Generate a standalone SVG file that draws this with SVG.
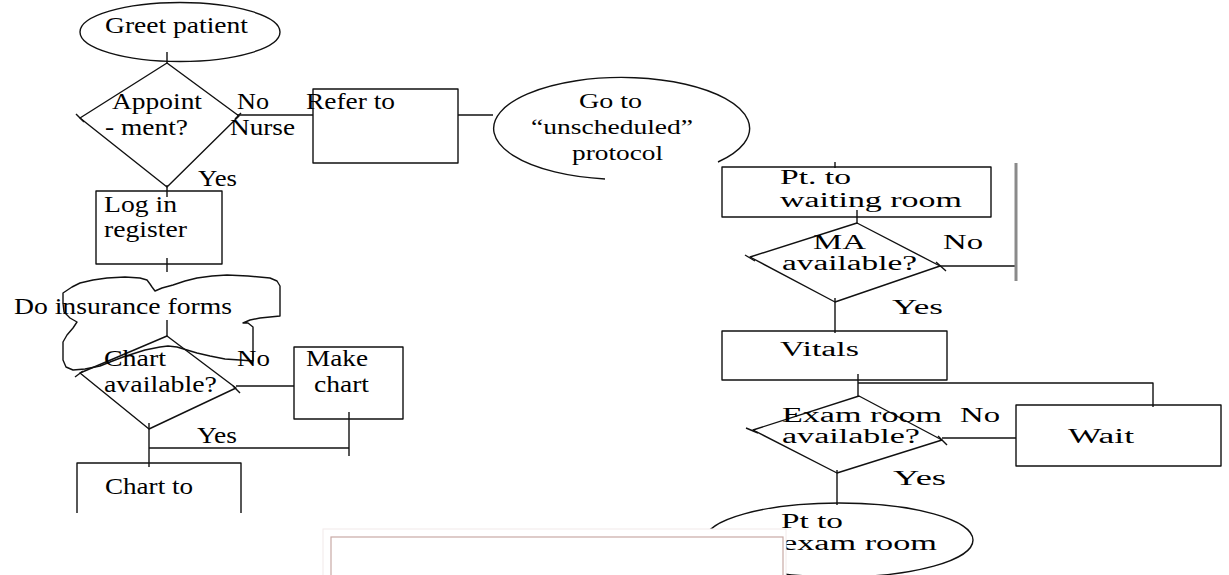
<svg xmlns="http://www.w3.org/2000/svg" width="1229" height="575" viewBox="0 0 1229 575">
<style>
.s{fill:none;stroke:#111;stroke-width:1.4;stroke-linejoin:round}
text{font-family:'Liberation Serif','DejaVu Serif','Times New Roman',serif;fill:#000}
.l{font-size:23px}
.m{font-size:22px}
.r{font-size:20px}
</style>
<rect width="1229" height="575" fill="#fff"/>
<g id="connectors">
<line class="s" x1="167" y1="52" x2="167" y2="63"/>
<line class="s" x1="237" y1="115" x2="313" y2="115"/>
<line class="s" x1="458" y1="115" x2="493" y2="115"/>
<line class="s" x1="167" y1="185" x2="167" y2="197"/>
<line class="s" x1="167" y1="258" x2="167" y2="272"/>
<line class="s" x1="167" y1="320" x2="167" y2="336"/>
<line class="s" x1="236" y1="386" x2="294" y2="386"/>
<line class="s" x1="349" y1="412" x2="349" y2="456"/>
<line class="s" x1="149" y1="448" x2="349" y2="448"/>
<line class="s" x1="149" y1="423" x2="149" y2="467"/>
<line class="s" x1="835" y1="162" x2="835" y2="168"/>
<line class="s" x1="857" y1="210" x2="857" y2="223"/>
<line class="s" x1="940" y1="266" x2="1015" y2="266"/>
<line x1="1016" y1="163" x2="1016" y2="281" stroke="#8a8a8a" stroke-width="3"/>
<line class="s" x1="835" y1="298" x2="835" y2="333"/>
<line class="s" x1="858" y1="374" x2="858" y2="396"/>
<path class="s" d="M858,383 H1153 V407"/>
<line class="s" x1="942" y1="438" x2="1016" y2="438"/>
<line class="s" x1="837" y1="470" x2="837" y2="505"/>
</g>
<g id="greet">
<ellipse class="s" cx="180" cy="32" rx="100" ry="29.5"/>
<text class="l" x="105" y="33" textLength="143" lengthAdjust="spacingAndGlyphs">Greet patient</text>
</g>
<g id="appointment">
<polygon class="s" points="167,63 239,116 167,187 80,118"/>
<line class="s" x1="76" y1="114" x2="84" y2="122"/>
<line class="s" x1="235" y1="119" x2="241" y2="113"/>
<text class="l" x="112" y="109" textLength="90" lengthAdjust="spacingAndGlyphs">Appoint</text>
<text class="l" x="105" y="135" textLength="83" lengthAdjust="spacingAndGlyphs">- ment?</text>
<text class="l" x="237" y="109" textLength="32" lengthAdjust="spacingAndGlyphs">No</text>
<text class="l" x="230" y="135" textLength="65" lengthAdjust="spacingAndGlyphs">Nurse</text>
<text class="l" x="198" y="186" textLength="39" lengthAdjust="spacingAndGlyphs">Yes</text>
</g>
<g id="refer">
<rect class="s" x="313" y="89" width="145" height="74"/>
<text class="l" x="306" y="109" textLength="89" lengthAdjust="spacingAndGlyphs">Refer to</text>
</g>
<g id="unscheduled">
<path class="s" d="M718,162 A128,51 0 1 0 605,179"/>
<text class="m" x="579" y="108" textLength="63" lengthAdjust="spacingAndGlyphs">Go to</text>
<text class="m" x="531" y="134" textLength="162" lengthAdjust="spacingAndGlyphs">“unscheduled”</text>
<text class="m" x="572" y="160" textLength="91" lengthAdjust="spacingAndGlyphs">protocol</text>
</g>
<g id="login">
<rect class="s" x="96" y="191" width="126" height="73"/>
<text class="l" x="104" y="212" textLength="73" lengthAdjust="spacingAndGlyphs">Log in</text>
<text class="l" x="104" y="237" textLength="83" lengthAdjust="spacingAndGlyphs">register</text>
</g>
<g id="insurance">
<path class="s" d="M63,293 L72,287 L80,283 L93,280 L107,278 L125,277 L140,278 L147,280 L150,284 L152,287 L155,291 L162,288 L173,285 L185,281 L197,278 L212,276 L227,275 L248,276 L270,278 L277,281 L280,286 L280,300 L280,316 L270,317 L260,318 L250,320 L243,323 L248,323 L253,327 L253,345 L253,361 L240,360 L225,359 L210,356 L197,353 L187,350 L177,347 L168,346 L160,347 L145,350 L123,357 L110,362 L100,366 L85,369 L73,370 L66,367 L63,360 L63,350 L63,342 L67,335 L73,328 L77,322 L70,318 L64,312 L63,303 Z"/>
<text class="l" x="14" y="314" textLength="218" lengthAdjust="spacingAndGlyphs">Do insurance forms</text>
</g>
<g id="chartavail">
<polygon class="s" points="167,336 236,388 149,429 80,373"/>
<line class="s" x1="75" y1="377" x2="83" y2="371"/>
<line class="s" x1="233" y1="386" x2="240" y2="393"/>
<text class="l" x="104" y="366" textLength="62" lengthAdjust="spacingAndGlyphs">Chart</text>
<text class="l" x="104" y="392" textLength="113" lengthAdjust="spacingAndGlyphs">available?</text>
<text class="l" x="237" y="366" textLength="33" lengthAdjust="spacingAndGlyphs">No</text>
<text class="l" x="197" y="443" textLength="40" lengthAdjust="spacingAndGlyphs">Yes</text>
</g>
<g id="makechart">
<rect class="s" x="294" y="347" width="109" height="72"/>
<text class="l" x="306" y="366" textLength="62" lengthAdjust="spacingAndGlyphs">Make</text>
<text class="l" x="314" y="392" textLength="55" lengthAdjust="spacingAndGlyphs">chart</text>
</g>
<g id="chartto">
<path class="s" d="M77,513 V463 H241 V513"/>
<text class="l" x="105" y="494" textLength="88" lengthAdjust="spacingAndGlyphs">Chart to</text>
</g>
<g id="waitingroom">
<rect class="s" x="722" y="167" width="269" height="50"/>
<text class="r" x="780" y="184" textLength="71" lengthAdjust="spacingAndGlyphs">Pt. to</text>
<text class="r" x="780" y="207" textLength="182" lengthAdjust="spacingAndGlyphs">waiting room</text>
</g>
<g id="maavail">
<polygon class="s" points="857,223 940,266 835,302 750,257"/>
<line class="s" x1="745" y1="255" x2="755" y2="261"/>
<line class="s" x1="936" y1="262" x2="946" y2="271"/>
<text class="r" x="813" y="249" textLength="53" lengthAdjust="spacingAndGlyphs">MA</text>
<text class="r" x="782" y="270" textLength="135" lengthAdjust="spacingAndGlyphs">available?</text>
<text class="r" x="943" y="249" textLength="40" lengthAdjust="spacingAndGlyphs">No</text>
<text class="r" x="892" y="314" textLength="51" lengthAdjust="spacingAndGlyphs">Yes</text>
</g>
<g id="vitals">
<rect class="s" x="722" y="331" width="225" height="49"/>
<text class="r" x="780" y="356" textLength="79" lengthAdjust="spacingAndGlyphs">Vitals</text>
</g>
<g id="examavail">
<polygon class="s" points="859,396 942,440 837,473 753,430"/>
<line class="s" x1="746" y1="428" x2="758" y2="433"/>
<line class="s" x1="938" y1="436" x2="947" y2="445"/>
<text class="r" x="782" y="422" textLength="160" lengthAdjust="spacingAndGlyphs">Exam room</text>
<text class="r" x="782" y="443" textLength="138" lengthAdjust="spacingAndGlyphs">available?</text>
<text class="r" x="960" y="422" textLength="40" lengthAdjust="spacingAndGlyphs">No</text>
<text class="r" x="893" y="485" textLength="53" lengthAdjust="spacingAndGlyphs">Yes</text>
</g>
<g id="wait">
<rect class="s" x="1016" y="405" width="205" height="61"/>
<text class="r" x="1068" y="443" textLength="66" lengthAdjust="spacingAndGlyphs">Wait</text>
</g>
<g id="examroom">
<ellipse class="s" cx="839" cy="540" rx="134" ry="37"/>
<text class="r" x="781" y="528" textLength="62" lengthAdjust="spacingAndGlyphs">Pt to</text>
<text class="r" x="782" y="550" textLength="155" lengthAdjust="spacingAndGlyphs">exam room</text>
</g>
<g id="overlay">
<rect x="323" y="529" width="463" height="50" fill="#fff" stroke="#f2eaea" stroke-width="1"/>
<rect x="331" y="537" width="452" height="45" fill="#fff" stroke="#c9aaa6" stroke-width="1.2"/>
</g>
</svg>
